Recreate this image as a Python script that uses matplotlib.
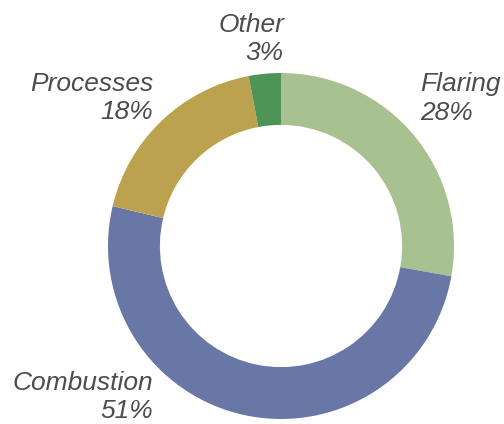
import matplotlib.pyplot as plt

# emission sources, share in percent (clockwise from 12 o'clock)
sources = ["Flaring", "Combustion", "Processes", "Other"]
shares = [27.8, 50.9, 18.3, 3.0]
colors = ["#a8c191", "#6877a6", "#bca24f", "#4e9456"]

# label anchor (x, baseline of first line) in pixels from bottom-left, plus alignment
label_pos = {
    "Flaring": (420.5, 332.5, "left"),
    "Combustion": (153, 34, "right"),
    "Processes": (153, 333, "right"),
    "Other": (284, 392.3, "right"),
}

W, H = 504, 424
fig = plt.figure(figsize=(W / 100, H / 100), dpi=100)
ax = fig.add_axes([0, 0, 1, 1])

ax.pie(shares, colors=colors, startangle=90, counterclock=False,
       center=(281, 178), radius=173,
       wedgeprops=dict(width=0.30 * 173, linewidth=0))

ax.set_xlim(0, W)
ax.set_ylim(0, H)
ax.set_aspect("equal")
ax.axis("off")

txt = dict(fontsize=19, style="italic", family="Liberation Sans",
           color="#4d4d4d", va="baseline")
for name, val in zip(sources, shares):
    x, y, ha = label_pos[name]
    ax.text(x, y, name, ha=ha, **txt)
    ax.text(x, y - 28, f"{round(val)}%", ha=ha, **txt)

fig.savefig("out.png", dpi=100)
